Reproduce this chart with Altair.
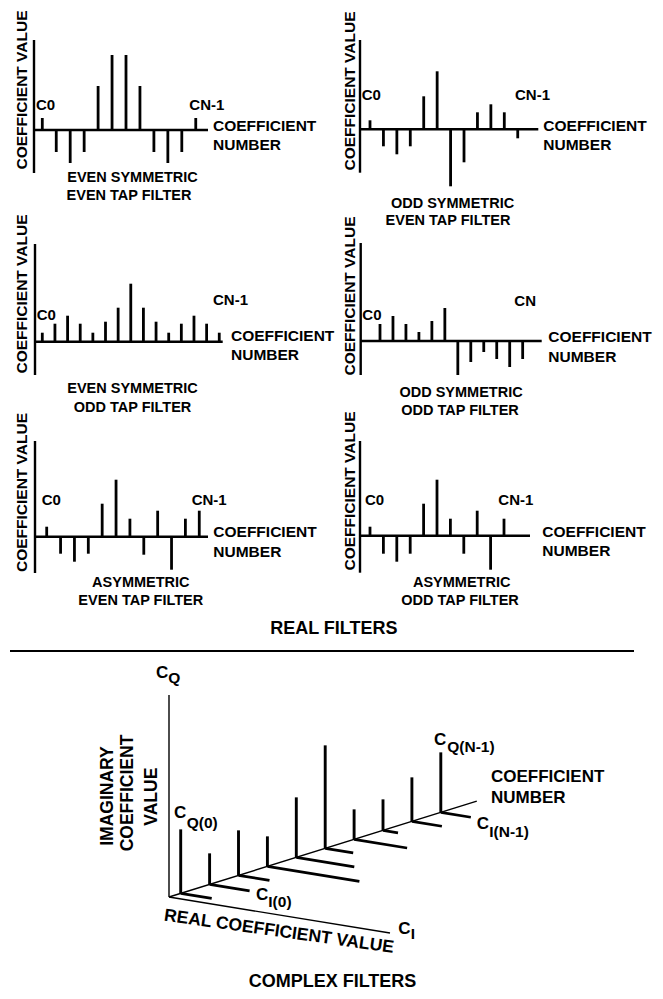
import altair as alt
import pandas as pd

# ---------------- data ----------------
p1_values = [1.2, -2.2, -3.3, -2.2, 4.4, 7.5, 7.5, 4.4, -2.2, -3.3, -2.2, 1.2]
p2_values = [0.9, -1.7, -2.5, -1.7, 3.3, 5.8, -5.7, -3.3, 1.7, 2.5, 1.7, -0.9]
p3_values = [0.9, 1.8, 2.6, 1.8, 0.9, 2.0, 3.4, 5.8, 3.4, 2.0, 0.9, 1.8, 2.6, 1.8, 0.9]
p4_values = [1.7, 2.5, 1.7, 0.9, 2.0, 3.3, -3.4, -2.1, -1.1, -1.8, -2.6, -1.8]
p5_values = [1.0, -1.7, -2.5, -1.7, 3.3, 5.7, 1.8, -1.8, 2.6, -3.3, 1.8, 2.6]
p6_values = [0.9, -1.8, -2.6, -1.8, 3.2, 5.6, 1.7, -1.8, 2.5, -3.4, 1.7]

panel_values = [p1_values, p2_values, p3_values, p4_values, p5_values, p6_values]
panel_captions = [
    ["EVEN SYMMETRIC", "EVEN TAP FILTER"],
    ["ODD SYMMETRIC", "EVEN TAP FILTER"],
    ["EVEN SYMMETRIC", "ODD TAP FILTER"],
    ["ODD SYMMETRIC", "ODD TAP FILTER"],
    ["ASYMMETRIC", "EVEN TAP FILTER"],
    ["ASYMMETRIC", "ODD TAP FILTER"],
]
first_labels = ["C0"] * 6
last_labels = ["CN-1", "CN-1", "CN-1", "CN", "CN-1", "CN-1"]

complex_imag = [6.4, 3.1, 4.5, 3.0, 6.0, 10.3, 3.0, 3.1, 4.4, 6.0]
complex_real = [3.1, 4.0, 3.1, 9.2, 5.8, 2.8, 5.3, 1.5, 3.0, 3.0]

# ---------------- layout (positions / sizes) ----------------
W, H = 647, 982
X0, Y0 = 8, 8
FONT = "Liberation Sans"
UNIT = 10.0  # px per value unit

panel_layout = [
    dict(ax=34, top=40, bot=173, by=130, bend=208, first=42.3, step=13.95,
         c0=(36, 110), cn=(189.3, 110), coef=(213, 131), num=(213, 149.5), vl=(27, 90),
         caps=[(132.5, 182), (129, 200)]),
    dict(ax=360, top=40, bot=172.7, by=129.3, bend=538.3, first=370, step=13.43,
         c0=(361.7, 100), cn=(515, 100), coef=(543.3, 130.5), num=(543.3, 149.5), vl=(355, 91),
         caps=[(452.5, 208), (448, 225)]),
    dict(ax=35, top=244, bot=375, by=341.7, bend=222.7, first=42.3, step=12.64,
         c0=(36.7, 320), cn=(213, 305), coef=(231, 341), num=(231, 359.5), vl=(26.7, 294),
         caps=[(132.5, 393.3), (132.5, 411.7)]),
    dict(ax=360.7, top=243, bot=375, by=341, bend=541.7, first=380, step=12.97,
         c0=(362.3, 320), cn=(514.3, 306), coef=(548.3, 341.7), num=(548.3, 362), vl=(355, 296),
         caps=[(461, 396.7), (460, 415)]),
    dict(ax=35, top=441, bot=573, by=536.7, bend=208, first=46.7, step=13.87,
         c0=(41.7, 505), cn=(191.7, 505), coef=(213.3, 537), num=(213.3, 556.5), vl=(26.7, 492.5),
         caps=[(140.8, 586.7), (140.8, 605)]),
    dict(ax=360, top=441, bot=572.7, by=535.7, bend=530, first=370, step=13.4,
         c0=(365, 505), cn=(498.3, 505), coef=(542.3, 537), num=(542.3, 556), vl=(355, 491),
         caps=[(461.7, 586.7), (460, 605)]),
]

rules = []
texts = []

def add_text(x, y, t, size=15, angle=0, align="left"):
    texts.append(dict(x=x, y=y, text=t, size=size, angle=angle, align=align))

for vals, L, caps, f, l in zip(panel_values, panel_layout, panel_captions, first_labels, last_labels):
    # stems from data
    for i, v in enumerate(vals):
        x = L["first"] + i * L["step"]
        rules.append(dict(x=x, y=L["by"], x2=x, y2=L["by"] - v * UNIT, w=2.8))
    # axes
    rules.append(dict(x=L["ax"], y=L["top"], x2=L["ax"], y2=L["bot"], w=2.4))
    rules.append(dict(x=L["ax"], y=L["by"], x2=L["bend"], y2=L["by"], w=2.5))
    add_text(*L["c0"], f)
    add_text(*L["cn"], l)
    add_text(*L["coef"], "COEFFICIENT", size=15.5)
    add_text(*L["num"], "NUMBER", size=15.5)
    add_text(*L["vl"], "COEFFICIENT VALUE", size=15.5, angle=270, align="center")
    for (cx, cy), c in zip(L["caps"], caps):
        add_text(cx, cy, c, size=14.5, align="center")

add_text(333.8, 634.3, "REAL FILTERS", size=18, align="center")
rules.append(dict(x=10, y=651, x2=634, y2=651, w=2.2))

# ---------------- complex filter (oblique projection) ----------------
OX, OY = 169, 897
NUM_DX, NUM_DY = 28.9, -9.0      # per coefficient number
REAL_DX, REAL_DY = 10.0, 1.63     # per real unit
IMAG_DY = -10.0                   # per imaginary unit
T0 = 0.405

rules.append(dict(x=OX, y=OY, x2=OX, y2=695, w=1.4))                       # C_Q axis
rules.append(dict(x=OX, y=OY, x2=OX + 10.65 * NUM_DX, y2=OY + 10.65 * NUM_DY, w=1.4))  # number axis
rules.append(dict(x=OX, y=OY, x2=OX + 22.1 * REAL_DX, y2=OY + 22.1 * REAL_DY, w=1.4))  # real axis

for i, (q, r) in enumerate(zip(complex_imag, complex_real)):
    t = T0 + i
    bx, by = OX + t * NUM_DX, OY + t * NUM_DY
    rules.append(dict(x=bx, y=by, x2=bx, y2=by + q * IMAG_DY, w=2.9))
    rules.append(dict(x=bx, y=by, x2=bx + r * REAL_DX, y2=by + r * REAL_DY, w=2.7))

add_text(156, 677.7, "C", size=17)
add_text(168.3, 683.3, "Q", size=15.5)
add_text(113.3, 796, "IMAGINARY", size=17.5, angle=270, align="center")
add_text(133.3, 793, "COEFFICIENT", size=17.5, angle=270, align="center")
add_text(156.7, 796.7, "VALUE", size=17.5, angle=270, align="center")
add_text(174, 818.3, "C", size=17)
add_text(186.7, 828.3, "Q(0)", size=15.5)
add_text(256, 900, "C", size=17)
add_text(268.3, 907.3, "I(0)", size=15.5)
add_text(278.3, 936.7, "REAL COEFFICIENT VALUE", size=17.5, angle=8, align="center")
add_text(398.3, 934, "C", size=17)
add_text(410.7, 939.3, "I", size=15.5)
add_text(434, 745, "C", size=17)
add_text(447.3, 751.7, "Q(N-1)", size=15.5)
add_text(491, 782.3, "COEFFICIENT", size=17)
add_text(491, 802.7, "NUMBER", size=17)
add_text(476.7, 829.3, "C", size=17)
add_text(489.3, 836.7, "I(N-1)", size=15.5)
add_text(332.5, 987, "COMPLEX FILTERS", size=18, align="center")

rule_df = pd.DataFrame(rules)
text_df = pd.DataFrame(texts)

xs = alt.Scale(domain=[X0, X0 + W], nice=False, zero=False)
ys = alt.Scale(domain=[Y0, Y0 + H], nice=False, zero=False, reverse=True)

rule_layer = alt.Chart(rule_df).mark_rule(color="black", strokeCap="butt").encode(
    x=alt.X("x:Q", scale=xs, axis=None),
    y=alt.Y("y:Q", scale=ys, axis=None),
    x2="x2:Q",
    y2="y2:Q",
    strokeWidth=alt.StrokeWidth("w:Q", scale=None, legend=None),
)

def text_layer(align):
    d = text_df[text_df["align"] == align]
    return alt.Chart(d).mark_text(
        align=align, baseline="alphabetic", font=FONT, fontWeight="bold", color="black"
    ).encode(
        x=alt.X("x:Q", scale=xs, axis=None),
        y=alt.Y("y:Q", scale=ys, axis=None),
        text="text:N",
        size=alt.Size("size:Q", scale=None, legend=None),
        angle=alt.Angle("angle:Q", scale=None, legend=None),
    )

chart = alt.layer(rule_layer, text_layer("left"), text_layer("center")).properties(
    width=W, height=H, autosize=alt.AutoSizeParams(type="none"), padding=0
).configure_view(stroke=None)

chart.save("out.html", embed_options={"renderer": "svg", "actions": False})
